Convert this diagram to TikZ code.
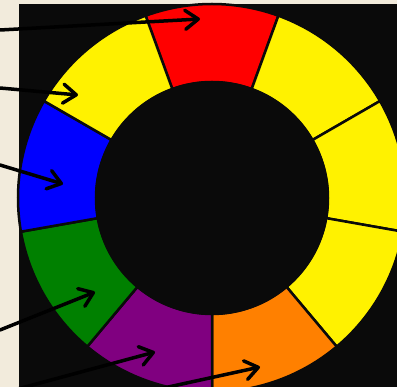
\documentclass[tikz,border=0pt]{standalone}
\usepackage{tikz}
\usetikzlibrary{arrows.meta,calc}
\definecolor{paper}{RGB}{242,235,220}
\definecolor{ink}{RGB}{10,10,10}
\definecolor{wheelorange}{RGB}{255,128,0}
\definecolor{wheelpurple}{RGB}{128,0,128}
\definecolor{wheelgreen}{RGB}{0,128,0}
\begin{document}
\begin{tikzpicture}[x=1pt,y=-1pt,
    seg/.style={draw=ink,line width=2.5pt,line join=miter},
    pointer/.style={draw=black,line width=3.5pt,line cap=round,-{Straight Barb[length=13pt,width=19pt,round]}}]
\useasboundingbox (0,0) rectangle (397,387);
\fill[paper] (0,0) rectangle (397,387);
\fill[ink] (19,4) rectangle (397,387);
\coordinate (hub) at (212,198);
% ring of nine segments, 40 degrees each
\begin{scope}[shift={(hub)},yscale=-1]
  \foreach \a/\col in {70/red,30/yellow,-10/yellow,-50/yellow,-90/wheelorange,-130/wheelpurple,-170/wheelgreen,150/blue,110/yellow}
    \filldraw[seg,fill=\col] (\a:116) -- (\a:194) arc[start angle=\a,end angle=\a+40,radius=194]
      -- (\a+40:116) arc[start angle=\a+40,end angle=\a,radius=116] -- cycle;
  \fill[ink] (0,0) circle[radius=117];
\end{scope}
% arrows
\coordinate (from1) at (0,30);   \coordinate (red)    at (200,19);
\coordinate (from2) at (0,88);   \coordinate (yellow) at (78,95);
\coordinate (from3) at (0,165);  \coordinate (blue)   at (63,184);
\coordinate (from4) at (0,330);  \coordinate (green)  at (95,292);
\coordinate (from5) at (14,390); \coordinate (purple) at (155,352);
\coordinate (from6) at (150,391);\coordinate (orange) at (260,367);
\draw[pointer] (from1) -- (red);
\draw[pointer] (from2) -- (yellow);
\draw[pointer] (from3) -- (blue);
\draw[pointer] (from4) -- (green);
\draw[pointer] (from5) -- (purple);
\draw[pointer] (from6) -- (orange);
\end{tikzpicture}
\end{document}
